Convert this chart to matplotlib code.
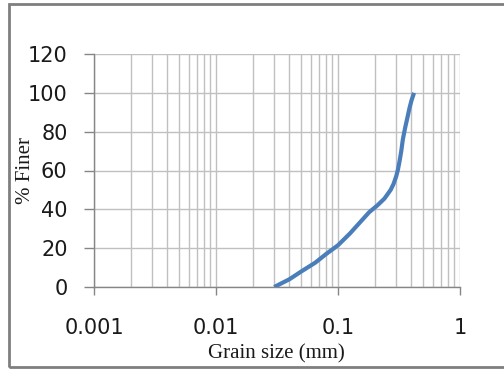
import matplotlib
matplotlib.use("Agg")
import matplotlib.pyplot as plt
from matplotlib.patches import Rectangle
from matplotlib.ticker import LogLocator, FixedLocator, NullFormatter

grain_size = [0.03, 0.04, 0.05, 0.065, 0.08, 0.1, 0.125, 0.15, 0.18, 0.21,
              0.24, 0.27, 0.285, 0.3, 0.31, 0.32, 0.33, 0.34, 0.355, 0.37,
              0.385, 0.4, 0.42]
percent_finer = [0, 4, 8, 12.5, 17, 21.5, 27.5, 33, 38.5, 42,
                 45.5, 50, 53, 57, 60.5, 65, 70, 76, 82, 87,
                 92, 96, 100]
x_ticks = [0.001, 0.01, 0.1, 1]
x_tick_labels = ["0.001", "0.01", "0.1", "1"]
y_ticks = [0, 20, 40, 60, 80, 100, 120]

fig = plt.figure(figsize=(5.04, 3.69), dpi=100)
ax = fig.add_axes([94/504, 1-287/369, (460-94)/504, (287-54)/369])

grid_c = "#c0c0c0"
axis_c = "#868686"

ax.set_xscale("log")
ax.set_xlim(0.001, 1)
ax.set_ylim(0, 120)
ax.xaxis.set_major_locator(FixedLocator(x_ticks))
ax.set_xticklabels(x_tick_labels)
ax.xaxis.set_minor_locator(LogLocator(base=10, subs=range(2, 10), numticks=20))
ax.xaxis.set_minor_formatter(NullFormatter())
ax.set_yticks(y_ticks)

ax.grid(True, which="major", color=grid_c, linewidth=1.0)
ax.grid(True, which="minor", axis="x", color=grid_c, linewidth=1.0)
ax.set_axisbelow(True)

for s in ["top", "right"]:
    ax.spines[s].set_visible(False)
for s in ["left", "bottom"]:
    ax.spines[s].set_color(axis_c)
    ax.spines[s].set_linewidth(1.0)

ax.tick_params(axis="x", which="major", direction="out", length=6, width=1,
               color=axis_c, pad=16, labelsize=15, labelcolor="#1a1a1a")
ax.tick_params(axis="x", which="minor", length=0)
ax.tick_params(axis="y", which="major", direction="out", length=7, width=1,
               color=axis_c, pad=12, labelsize=15, labelcolor="#1a1a1a")
for lab in ax.get_xticklabels() + ax.get_yticklabels():
    lab.set_family("DejaVu Sans")

ax.plot(grain_size, percent_finer, color="#4a7ebb", linewidth=3,
        solid_capstyle="butt", solid_joinstyle="round", zorder=3)

fig.text(26/504, 1-170/369, "% Finer", rotation=90, ha="center", va="center",
         family="Liberation Serif", fontsize=15, color="#1a1a1a")
fig.text(276/504, 1-354/369, "Grain size (mm)", ha="center", va="center",
         family="Liberation Serif", fontsize=15, color="#1a1a1a")

fig.patches.append(Rectangle((8.5/504, 1-367/369), 1.0, (367-4)/369,
                             transform=fig.transFigure, fill=False,
                             edgecolor="#7f7f7f", linewidth=2))

fig.savefig("out.png", dpi=100)
